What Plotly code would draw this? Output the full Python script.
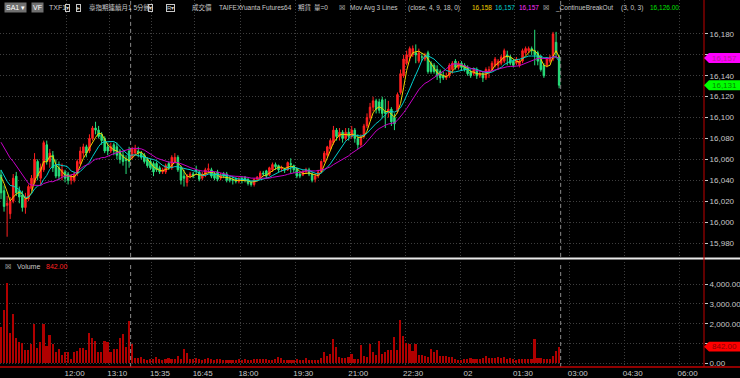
import plotly.graph_objects as go
import pandas as pd

# ---------------- data ----------------
opens = [16045,16030,16016,16008,16020,16044,16030,16026,16014,16022,
         16032,16038,16058,16042,16050,16074,16058,16064,16054,16052,
         16044,16048,16046,16040,16040,16046,16056,16066,16072,16068,
         16080,16090,16088,16084,16080,16072,16068,16074,16072,16068,
         16064,16060,16068,16062,16066,16068,16066,16064,16060,16058,
         16056,16056,16052,16048,16048,16056,16052,16058,16062,16052,
         16044,16038,16044,16046,16050,16048,16042,16045,16050,16050,
         16046,16048,16042,16046,16046,16042,16041,16041,16039,16042,
         16043,16041,16038,16036,16041,16042,16047,16049,16045,16050,
         16055,16054,16051,16051,16050,16056,16054,16051,16046,16045,
         16048,16050,16046,16041,16044,16048,16058,16064,16070,16076,
         16088,16082,16086,16080,16086,16082,16088,16080,16074,16082,
         16092,16100,16110,16116,16115,16117,16106,16106,16108,16100,
         16106,16124,16140,16152,16158,16160,16162,16154,16158,16156,
         16162,16152,16150,16146,16144,16140,16138,16140,16146,16154,
         16148,16152,16150,16148,16144,16142,16146,16140,16142,16138,
         16144,16146,16150,16150,16152,16154,16160,16158,16154,16152,
         16150,16154,16162,16164,16166,16164,16162,16158,16150,16150,
         16154,16156,16172,16158]
highs = [16050,16035,16025,16024,16046,16048,16034,16030,16028,16036,
         16045,16066,16060,16056,16078,16078,16070,16068,16060,16058,
         16056,16050,16048,16046,16048,16060,16072,16075,16074,16084,
         16092,16096,16092,16086,16082,16076,16076,16076,16076,16070,
         16068,16064,16072,16072,16074,16072,16068,16066,16062,16060,
         16058,16058,16054,16052,16056,16058,16064,16066,16064,16054,
         16050,16046,16048,16048,16054,16050,16048,16052,16056,16052,
         16048,16050,16047,16048,16048,16044,16044,16043,16043,16044,
         16044,16042,16040,16042,16044,16049,16049,16050,16053,16057,
         16057,16055,16054,16052,16058,16061,16055,16052,16048,16050,
         16052,16052,16048,16046,16050,16059,16068,16073,16080,16092,
         16090,16090,16088,16090,16090,16092,16090,16084,16084,16094,
         16104,16114,16120,16118,16118,16120,16118,16116,16110,16104,
         16124,16146,16160,16164,16168,16169,16170,16166,16162,16162,
         16164,16154,16152,16150,16146,16144,16143,16152,16154,16156,
         16154,16154,16152,16150,16146,16148,16148,16144,16144,16148,
         16149,16154,16158,16156,16160,16166,16164,16160,16156,16158,
         16156,16166,16168,16168,16168,16184,16164,16160,16152,16158,
         16160,16182,16182,16160]
lows = [16022,16010,15986,16003,16018,16025,16018,16010,16008,16020,
        16030,16036,16040,16036,16048,16055,16052,16048,16042,16040,
        16040,16038,16036,16036,16038,16044,16054,16062,16062,16066,
        16078,16084,16080,16074,16066,16064,16066,16064,16060,16056,
        16054,16046,16052,16060,16064,16062,16060,16056,16052,16050,
        16044,16048,16046,16046,16046,16050,16050,16056,16048,16036,
        16034,16034,16042,16042,16045,16039,16040,16043,16047,16042,
        16040,16039,16040,16042,16038,16038,16036,16037,16037,16037,
        16038,16035,16034,16034,16039,16041,16044,16042,16044,16048,
        16050,16048,16048,16047,16049,16047,16047,16042,16042,16044,
        16047,16044,16038,16038,16042,16047,16057,16062,16068,16074,
        16078,16078,16076,16078,16078,16080,16076,16070,16072,16080,
        16090,16098,16106,16104,16104,16100,16090,16100,16092,16088,
        16104,16122,16138,16150,16154,16158,16152,16152,16154,16154,
        16142,16142,16142,16136,16133,16136,16136,16138,16142,16146,
        16146,16145,16144,16140,16138,16140,16137,16138,16134,16136,
        16138,16144,16148,16146,16150,16152,16150,16150,16148,16150,
        16148,16152,16160,16162,16160,16150,16150,16144,16138,16148,
        16152,16154,16158,16128]
closes = [16028,16015,16018,16020,16042,16028,16024,16014,16022,16034,
          16042,16060,16044,16052,16076,16058,16066,16052,16044,16044,
          16050,16042,16040,16044,16046,16058,16068,16072,16066,16080,
          16090,16088,16082,16078,16068,16068,16072,16068,16064,16060,
          16058,16059,16058,16070,16070,16066,16062,16058,16054,16052,
          16048,16050,16048,16050,16054,16052,16062,16062,16050,16040,
          16042,16044,16046,16044,16049,16041,16046,16050,16051,16044,
          16042,16041,16045,16044,16040,16040,16040,16039,16041,16040,
          16040,16037,16036,16041,16043,16047,16046,16044,16052,16055,
          16053,16050,16052,16050,16057,16055,16050,16044,16044,16048,
          16050,16046,16040,16044,16048,16058,16066,16072,16078,16088,
          16082,16086,16080,16086,16082,16088,16080,16074,16082,16092,
          16100,16110,16116,16108,16107,16104,16104,16108,16096,16094,
          16122,16142,16156,16160,16166,16166,16160,16162,16158,16160,
          16144,16144,16144,16140,16138,16138,16140,16150,16152,16148,
          16152,16148,16146,16142,16140,16146,16140,16142,16138,16146,
          16146,16152,16156,16154,16158,16164,16158,16152,16150,16156,
          16154,16164,16166,16166,16164,16160,16154,16146,16140,16156,
          16158,16180,16162,16131]
# closes before the visible window (only feed the moving averages)
pre_closes = [16108,16112,16105,16100,16104,16098,16102,16100,16098,
              16070,16060,16055,16048,16042,16040,16050,16055]

vol_day = [1830,2680,4040,1550,2470,1280,1070,1030,670,670,
           960,1990,750,1070,1990,870,1430,960,560,720,
           430,590,590,220,590,620,790,750,670,1540,
           1270,1120,590,590,1150,1090,550,740,700,1270,
           1470,830,2120,950]
vol_night_a = [256,289,320,192,160,224,192,320,192,176,
               224,256,224,224,385,192,705,513,192,192,
               256,224,160,192,256,192,160,192,192,160,
               144,176,160,176,192,144,192,160,144,192,
               208,208,192,224,176,144,224,320,256,160,
               160,144,160,192,160,144,289,160,176,144,
               176,256,577,385,449,1202,802,320,289,256,
               320,481,192,224,914,385,320]
vol_night_b = [960,590,430,1150,480,590,670,670,1350,670,
               2200,1360,1040,990,640,960,430,430,380,320,
               740,590,670,350,350,350,320,320,220,190,
               190,224,224,256,192,192,224,289,385,289,
               289,256,320,256,320,224,289,192,144,192,
               224,224,192,192,1250,272,256,224,192,192,
               385,640,842]

tick_pos = [21.5, 35.5, 49.5, 63.5, 78.5, 96.5, 114.5, 132.5, 150.5, 168.5, 186.5, 204.5, 222.5]
tick_text = ["12:00", "13:10", "15:35", "16:45", "18:00", "19:30", "21:00",
             "22:30", "02", "01:30", "03:00", "04:30", "06:00"]
price_ticks = [15980, 16000, 16020, 16040, 16060, 16080, 16100, 16120, 16140, 16160, 16180]
price_tick_text = ["15,980", "16,000", "16,020", "16,040", "16,060", "16,080", "16,100",
                   "16,120", "16,140", "", "16,180"]   # 16,160 sits under the MA tag
vol_ticks = [0, 1000, 2000, 3000, 4000]
vol_tick_text = ["0.00", "", "2,000.00", "3,000.00", "4,000.00"]  # 1,000 under the volume tag

ma_periods = [4, 9, 18]
ma_colors = ["#f0d000", "#00d0d0", "#c800c8"]
ma_tag_value = 16157
session_break = 42.5
last_bar_line = 183.5

# ---------------- build ----------------
volumes = vol_day + vol_night_a + vol_night_b
xs = list(range(len(closes)))
all_close = pd.Series(pre_closes + closes)
npre = len(pre_closes)

W, H = 740, 378
PLOT_W = 704.0
BOT = 11
TXT = "#c8c8c8"
FONT = "Liberation Sans, Arial, sans-serif"

fig = go.Figure()
fig.add_trace(go.Candlestick(
    x=xs, open=opens, high=highs, low=lows, close=closes,
    increasing=dict(line=dict(color="#ff2020", width=1), fillcolor="#ff2020"),
    decreasing=dict(line=dict(color="#28e07c", width=1), fillcolor="#28e07c"),
    whiskerwidth=0, xaxis="x", yaxis="y", showlegend=False, hoverinfo="skip"))
for p, c in zip(ma_periods, ma_colors):
    ma = all_close.rolling(p).mean().iloc[npre:].tolist()
    fig.add_trace(go.Scatter(x=xs, y=ma, mode="lines", line=dict(color=c, width=1),
                             xaxis="x", yaxis="y", showlegend=False, hoverinfo="skip"))
fig.add_trace(go.Bar(x=xs, y=volumes, marker=dict(color="#b00000", line=dict(width=0)),
                     width=0.55, xaxis="x2", yaxis="y2", showlegend=False, hoverinfo="skip"))

xr = [-0.33, 230.5]
grid = dict(showgrid=True, gridcolor="#3e3e3e", griddash="1px,2px", gridwidth=1)
fig.update_layout(
    width=W, height=H, paper_bgcolor="black", plot_bgcolor="black",
    margin=dict(l=0, r=W - PLOT_W, t=0, b=BOT),
    font=dict(family=FONT, size=8, color=TXT),
    xaxis=dict(domain=[0, 1], range=xr, anchor="y", tickvals=tick_pos, ticktext=tick_text,
               showticklabels=False, zeroline=False, rangeslider=dict(visible=False), **grid),
    yaxis=dict(domain=[0.30, 1], range=[15966.7, 16212.5], side="right", tickvals=price_ticks,
               ticktext=price_tick_text, ticks="outside", ticklen=3, tickcolor=TXT, zeroline=False,
               tickfont=dict(size=8, color=TXT), **grid),
    xaxis2=dict(domain=[0, 1], range=xr, anchor="y2", tickvals=tick_pos, ticktext=tick_text,
                showticklabels=True, ticks="", tickfont=dict(size=8, color=TXT),
                ticklabelshift=8, zeroline=False, **grid),
    yaxis2=dict(domain=[0, 0.286], range=[-187, 5116], side="right", tickvals=vol_ticks,
                ticktext=vol_tick_text, ticks="outside", ticklen=3, tickcolor=TXT, zeroline=False,
                tickfont=dict(size=8, color=TXT), **grid),
    bargap=0,
)

def px(xp):
    return xp / PLOT_W

def py(yp):
    return (H - BOT - yp) / (H - BOT)

shapes = []
# session break & last bar dashed lines
for xv in (session_break, last_bar_line):
    for xa, ya in (("x", "y"), ("x2", "y2")):
        shapes.append(dict(type="line", xref=xa, yref=ya + " domain", x0=xv, x1=xv, y0=0, y1=1,
                           line=dict(color="#8a8a8a", width=1, dash="4px,3px")))
# pane separator
shapes.append(dict(type="line", xref="paper", yref="paper", x0=0, x1=W / PLOT_W,
                   y0=py(258.5), y1=py(258.5), line=dict(color="#e8e8e8", width=2)))
# red right axis line and bottom line
shapes.append(dict(type="line", xref="paper", yref="paper", x0=1, x1=1, y0=0, y1=1,
                   line=dict(color="#c00000", width=1)))
shapes.append(dict(type="line", xref="paper", yref="paper", x0=0, x1=W / PLOT_W, y0=0, y1=0,
                   line=dict(color="#c00000", width=1.5)))

# right-edge value tags
tags = [("y", ma_tag_value, f"{ma_tag_value:,}", "#ff00ff", "#b0208c", 4.8),
        ("y", closes[-1], f"{closes[-1]:,}", "#00ff00", "#008a00", 4.8),
        ("y2", volumes[-1], f"{volumes[-1]:,.2f}", "#ff0000", "#8a0000", 250)]
annotations = []
for ya, val, txt, bg, fg, hh in tags:
    x0, x1, x2 = 1.0, px(PLOT_W + 5), W / PLOT_W
    shapes.append(dict(type="path", xref="paper", yref=ya, fillcolor=bg, line=dict(width=0),
                       path=f"M {x0},{val} L {x1},{val + hh} L {x2},{val + hh} L {x2},{val - hh} L {x1},{val - hh} Z",
                       layer="above"))
    annotations.append(dict(xref="paper", yref=ya, x=px(PLOT_W + 6), y=val, xanchor="left",
                            yanchor="middle", text=txt, showarrow=False,
                            font=dict(size=8, color=fg, family=FONT)))

# header row
hy = py(8)
HF = "Liberation Sans, Noto Sans CJK TC, sans-serif"
header = [
    (4, "SA1 ▾", "#ffffff", "#707070", 7), (31, "VF", "#ffffff", "#707070", 7),
    (47, "TXF1", TXT, None, 7), (65, "▾", TXT, "box", 6), (76, "▸", TXT, "box", 6),
    (87, "臺指期連續月1 5分鐘", TXT, None, 6.5), (148, "▾", TXT, "box", 6), (166, "R▾", TXT, "box", 6),
    (190, "成交價", TXT, None, 6.5), (217, "TAIFEX", TXT, None, 6.5), (238, "Yuanta Futures64", TXT, None, 6.5),
    (296, "期貨", TXT, None, 6.5), (312, "量=0", TXT, None, 6.5), (337, "☒", TXT, None, 7),
    (348, "Mov Avg 3 Lines", TXT, None, 6.5), (406, "(close, 4, 9, 18, 0)", TXT, None, 6.5),
    (470, "16,158", ma_colors[0], None, 6.5), (493, "16,157", ma_colors[1], None, 6.5),
    (517, "16,157", "#ff30ff", None, 6.5), (541, "☒", TXT, None, 7),
    (553, "_ContinueBreakOut", TXT, None, 6.5), (619, "(3, 0, 3)", TXT, None, 6.5),
    (648, "16,126.00", "#00e000", None, 6.5),
]
for xp, txt, col, style, fs in header:
    a = dict(xref="paper", yref="paper", x=px(xp), y=hy, xanchor="left", yanchor="middle",
             text=txt, showarrow=False, font=dict(size=fs, color=col, family=HF))
    if style == "box":
        a.update(bordercolor=TXT, borderwidth=1, borderpad=0)
    elif style:
        a.update(bgcolor=style, borderpad=1)
    annotations.append(a)

vy = py(266)
annotations += [
    dict(xref="paper", yref="paper", x=px(3), y=vy, xanchor="left", yanchor="middle", text="☒",
         showarrow=False, font=dict(size=7, color=TXT)),
    dict(xref="paper", yref="paper", x=px(15), y=vy, xanchor="left", yanchor="middle", text="Volume",
         showarrow=False, font=dict(size=7, color=TXT)),
    dict(xref="paper", yref="paper", x=px(44), y=vy, xanchor="left", yanchor="middle",
         text=f"{volumes[-1]:,.2f}", showarrow=False, font=dict(size=7, color="#ff2020")),
]

fig.update_layout(shapes=shapes, annotations=annotations)
fig.write_html("out.html")
